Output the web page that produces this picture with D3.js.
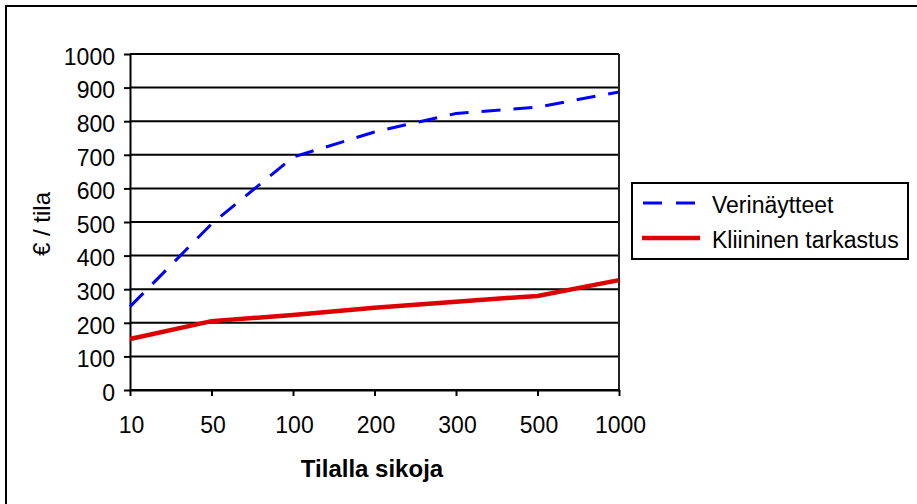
<!DOCTYPE html>
<html>
<head>
<meta charset="utf-8">
<script src="https://cdn.jsdelivr.net/npm/d3@7"></script>
<style>
    body { margin: 0; background: #fff; }
    svg { display: block; font-family: "Liberation Sans", Arial, sans-serif; }
</style>
</head>
<body>
<svg id="chart"></svg>
<script>

// DATA

const farmSizes = ["10", "50", "100", "200", "300", "500", "1000"];

const bloodSamples = [248, 494, 693, 768, 823, 842, 887];
const clinicalCheck = [152, 205, 223, 245, 263, 280, 327];

const yTicks = [0, 100, 200, 300, 400, 500, 600, 700, 800, 900, 1000];

const seriesNames = ["Verinäytteet", "Kliininen tarkastus"];


// SETUP

const width = 917;
const height = 504;

const marginLeft = 130;
const marginTop = 54;
const plotWidth = 489;
const plotHeight = 336;

const fontSize = "23px";

const svg = d3.select("#chart")
    .attr("width", width)
    .attr("height", height);

// outer frame (right and bottom edges fall outside the picture)
svg.append("rect")
    .attr("x", 6)
    .attr("y", 6)
    .attr("width", 1000)
    .attr("height", 1000)
    .attr("fill", "none")
    .attr("stroke", "#000")
    .attr("stroke-width", 2);

const g = svg.append("g")
    .attr("transform", `translate(${marginLeft},${marginTop})`);

const x = d3.scalePoint()
    .domain(farmSizes)
    .range([0, plotWidth]);

const y = d3.scaleLinear()
    .domain([0, 1000])
    .range([plotHeight, 0]);


// GRID

g.selectAll(".grid")
    .data(yTicks)
    .enter()
    .append("line")
    .attr("x1", 0)
    .attr("x2", plotWidth)
    .attr("y1", d => y(d))
    .attr("y2", d => y(d))
    .attr("stroke", "#000")
    .attr("stroke-width", 2);

g.append("line")
    .attr("x1", plotWidth)
    .attr("x2", plotWidth)
    .attr("y1", 0)
    .attr("y2", plotHeight)
    .attr("stroke", "#222")
    .attr("stroke-width", 2);


// AXES

const yAxis = g.append("g")
    .call(d3.axisLeft(y)
        .tickValues(yTicks)
        .tickFormat(d3.format("d"))
        .tickSize(6)
        .tickSizeOuter(0)
        .tickPadding(9));

const xAxis = g.append("g")
    .attr("transform", `translate(0,${plotHeight})`)
    .call(d3.axisBottom(x).tickSize(6).tickSizeOuter(0).tickPadding(21));

for (let axis of [xAxis, yAxis]) {
    axis.selectAll("path, line")
        .attr("stroke", "#000")
        .attr("stroke-width", 2);
    axis.selectAll("text")
        .attr("fill", "#000")
        .style("font-size", fontSize)
        .style("font-family", "'Liberation Sans', Arial, sans-serif");
}

yAxis.selectAll("text").attr("dy", "0.45em");
xAxis.selectAll("text").attr("dx", "1px");


// LINES

const line = d3.line()
    .x((d, i) => x(farmSizes[i]))
    .y(d => y(d));

g.append("path")
    .datum(bloodSamples)
    .attr("d", line)
    .attr("fill", "none")
    .attr("stroke", "#0000ff")
    .attr("stroke-width", 3)
    .attr("stroke-dasharray", "19,13");

g.append("path")
    .datum(clinicalCheck)
    .attr("d", line)
    .attr("fill", "none")
    .attr("stroke", "#dd0000")
    .attr("stroke-width", 4.5);


// TITLES

svg.append("text")
    .attr("x", 372)
    .attr("y", 477)
    .attr("text-anchor", "middle")
    .style("font-size", "24px")
    .style("font-weight", "bold")
    .text("Tilalla sikoja");

svg.append("text")
    .attr("transform", "translate(50,224) rotate(-90)")
    .attr("text-anchor", "middle")
    .style("font-size", "24px")
    .text("€ / tila");


// LEGEND

const legend = svg.append("g");

legend.append("rect")
    .attr("x", 632)
    .attr("y", 183)
    .attr("width", 276)
    .attr("height", 76)
    .attr("fill", "#fff")
    .attr("stroke", "#000")
    .attr("stroke-width", 2);

legend.append("line")
    .attr("x1", 643)
    .attr("x2", 697)
    .attr("y1", 203)
    .attr("y2", 203)
    .attr("stroke", "#0000ff")
    .attr("stroke-width", 3)
    .attr("stroke-dasharray", "19,14");

legend.append("line")
    .attr("x1", 642)
    .attr("x2", 700)
    .attr("y1", 238)
    .attr("y2", 238)
    .attr("stroke", "#dd0000")
    .attr("stroke-width", 4.5);

legend.append("text")
    .attr("x", 712)
    .attr("y", 213)
    .style("font-size", fontSize)
    .text(seriesNames[0]);

legend.append("text")
    .attr("x", 712)
    .attr("y", 248)
    .style("font-size", fontSize)
    .text(seriesNames[1]);

</script>
</body>
</html>
